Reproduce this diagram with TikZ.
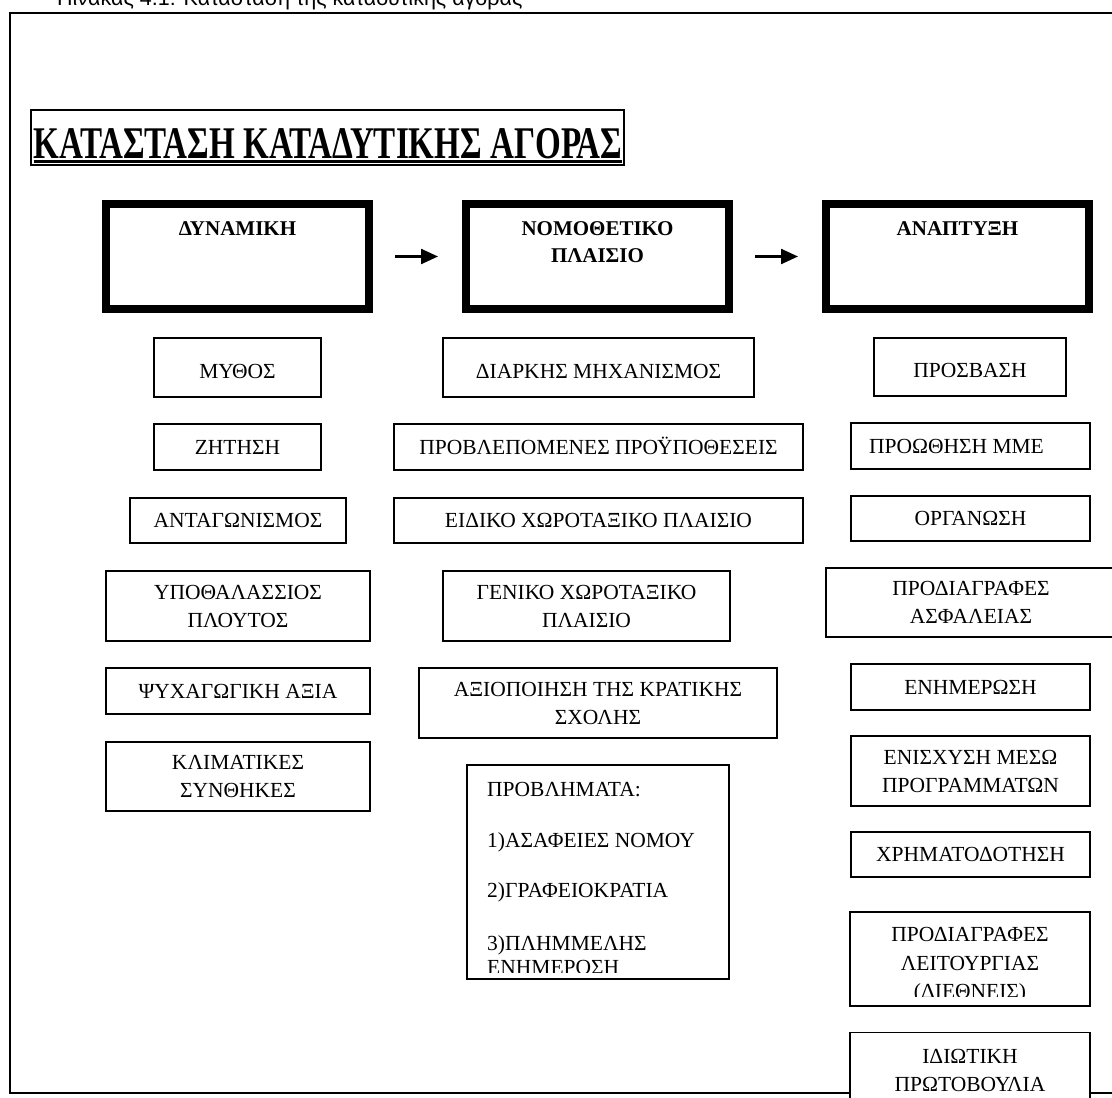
\documentclass[tikz,border=0pt]{standalone}
\usepackage{fontspec}
\setmainfont{Liberation Serif}
\newfontfamily\capfont{Liberation Sans}
\usepackage{tikz}
\usetikzlibrary{arrows.meta,positioning}

\begin{document}
\begin{tikzpicture}[x=1pt,y=-1pt,
  outer/.style={line width=2.2pt},
  head/.style={draw,line width=8pt,minimum width=263pt,minimum height=105pt,inner sep=0pt},
  headtext/.style={anchor=north,inner sep=0pt,align=center,font=\fontsize{21}{27}\selectfont\bfseries},
  itembox/.style={draw,fill=white,line width=1.6pt,inner sep=0pt,align=center,font=\fontsize{21.5}{28}\selectfont},
  oneline/.style={itembox,text height=14.4pt,text depth=0pt},
  topline/.style={itembox,text height=21pt,text depth=0pt},
  txt/.style={inner sep=0pt,align=center,font=\fontsize{21.5}{28.5}\selectfont},
  arr/.style={line width=2.4pt,-{Triangle[length=17pt,width=15pt]},shorten <=22pt,shorten >=24pt}]
\useasboundingbox (0,0) rectangle (1112,1098);

\node(cap)[anchor=base west,inner sep=0pt,font=\capfont\fontsize{21.5}{26}\selectfont] at (57,5) {Πίνακας 4.1: Κατάσταση της καταδυτικής αγοράς};
\draw[outer] (10,13) rectangle (1140,1093);

\node(ttl)[draw,line width=2pt,inner sep=0pt,minimum width=593pt,minimum height=55pt] at (327.5,137.5) {};
\node(ttltxt)[anchor=base,inner sep=0pt] at (328,158) {\resizebox{588pt}{30pt}{\bfseries ΚΑΤΑΣΤΑΣΗ ΚΑΤΑΔΥΤΙΚΗΣ ΑΓΟΡΑΣ}};
\draw[line width=3pt] ([yshift=-3.5pt]ttltxt.base west) -- ([yshift=-3.5pt]ttltxt.base east);

\node(dyn)[head] at (237.5,256.5) {};
\node(nom)[head] at (597.5,256.5) {};
\node(ana)[head] at (957.5,256.5) {};
\node(dynt)[headtext,below=21pt of dyn.north] {ΔΥΝΑΜΙΚΗ};
\node(nomt)[headtext,below=21pt of nom.north] {ΝΟΜΟΘΕΤΙΚΟ\\ΠΛΑΙΣΙΟ};
\node(anat)[headtext,below=21pt of ana.north] {ΑΝΑΠΤΥΞΗ};
\draw[arr] (dyn) -- (nom);
\draw[arr] (nom) -- (ana);

\node(myth)[topline,minimum width=167pt,minimum height=59pt] at (237.5,367.5) {ΜΥΘΟΣ};
\node(zit)[oneline,minimum width=167pt,minimum height=46pt] at (237.5,447) {ΖΗΤΗΣΗ};
\node(ant)[oneline,minimum width=216pt,minimum height=45pt] at (238,520.5) {ΑΝΤΑΓΩΝΙΣΜΟΣ};
\node(ypo)[itembox,minimum width=264pt,minimum height=70pt] at (238,606) {ΥΠΟΘΑΛΑΣΣΙΟΣ\\ΠΛΟΥΤΟΣ};
\node(psy)[oneline,minimum width=264pt,minimum height=46pt] at (238,691) {ΨΥΧΑΓΩΓΙΚΗ ΑΞΙΑ};
\node(kli)[itembox,minimum width=264pt,minimum height=69pt] at (238,776.5) {ΚΛΙΜΑΤΙΚΕΣ\\ΣΥΝΘΗΚΕΣ};

\node(dia)[topline,minimum width=311pt,minimum height=59pt] at (598.5,367.5) {ΔΙΑΡΚΗΣ ΜΗΧΑΝΙΣΜΟΣ};
\node(pro)[oneline,minimum width=409pt,minimum height=46pt] at (598.5,447) {ΠΡΟΒΛΕΠΟΜΕΝΕΣ ΠΡΟΫΠΟΘΕΣΕΙΣ};
\node(eid)[oneline,minimum width=409pt,minimum height=45pt] at (598.5,520.5) {ΕΙΔΙΚΟ ΧΩΡΟΤΑΞΙΚΟ ΠΛΑΙΣΙΟ};
\node(gen)[itembox,minimum width=287pt,minimum height=70pt] at (586.5,606) {ΓΕΝΙΚΟ ΧΩΡΟΤΑΞΙΚΟ\\ΠΛΑΙΣΙΟ};
\node(axi)[itembox,minimum width=358pt,minimum height=70pt] at (598,703) {ΑΞΙΟΠΟΙΗΣΗ ΤΗΣ ΚΡΑΤΙΚΗΣ\\ΣΧΟΛΗΣ};
\node(prob)[itembox,minimum width=262pt,minimum height=214pt] at (598,872) {};
\begin{scope}
\clip (466,764) rectangle (730,972);
\node(probt)[txt,anchor=north west,align=left,font=\fontsize{21.5}{24}\selectfont] at (487,782) {ΠΡΟΒΛΗΜΑΤΑ:\\[27pt]1)ΑΣΑΦΕΙΕΣ ΝΟΜΟΥ\\[26pt]2)ΓΡΑΦΕΙΟΚΡΑΤΙΑ\\[29pt]3)ΠΛΗΜΜΕΛΗΣ\\ΕΝΗΜΕΡΟΣΗ};
\end{scope}

\node(pros)[topline,minimum width=192pt,minimum height=58pt] at (970,367) {ΠΡΟΣΒΑΣΗ};
\node(mme)[oneline,minimum width=239pt,minimum height=46pt] at (970.5,446) {\hspace*{-28pt}ΠΡΟΩΘΗΣΗ ΜΜΕ};
\node(org)[oneline,minimum width=239pt,minimum height=45pt] at (970.5,518.5) {ΟΡΓΑΝΩΣΗ};
\node(asf)[itembox,minimum width=290pt,minimum height=69pt] at (971,602.5) {ΠΡΟΔΙΑΓΡΑΦΕΣ\\ΑΣΦΑΛΕΙΑΣ};
\node(enh)[oneline,minimum width=239pt,minimum height=46pt] at (970.5,687) {ΕΝΗΜΕΡΩΣΗ};
\node(eni)[itembox,minimum width=239pt,minimum height=70pt] at (970.5,771) {ΕΝΙΣΧΥΣΗ ΜΕΣΩ\\ΠΡΟΓΡΑΜΜΑΤΩΝ};
\node(xrh)[oneline,minimum width=239pt,minimum height=45pt] at (970.5,854.5) {ΧΡΗΜΑΤΟΔΟΤΗΣΗ};
\node(lei)[itembox,minimum width=240pt,minimum height=94pt] at (970,959) {};
\begin{scope}
\clip (849,911) rectangle (1091,996);
\node(leit)[txt] at (970,965.5) {ΠΡΟΔΙΑΓΡΑΦΕΣ\\ΛΕΙΤΟΥΡΓΙΑΣ\\(ΔΙΕΘΝΕΙΣ)};
\end{scope}
\node(idi)[itembox,minimum width=240pt,minimum height=76pt] at (970,1070.5) {ΙΔΙΩΤΙΚΗ\\ΠΡΩΤΟΒΟΥΛΙΑ};
\end{tikzpicture}
\end{document}
